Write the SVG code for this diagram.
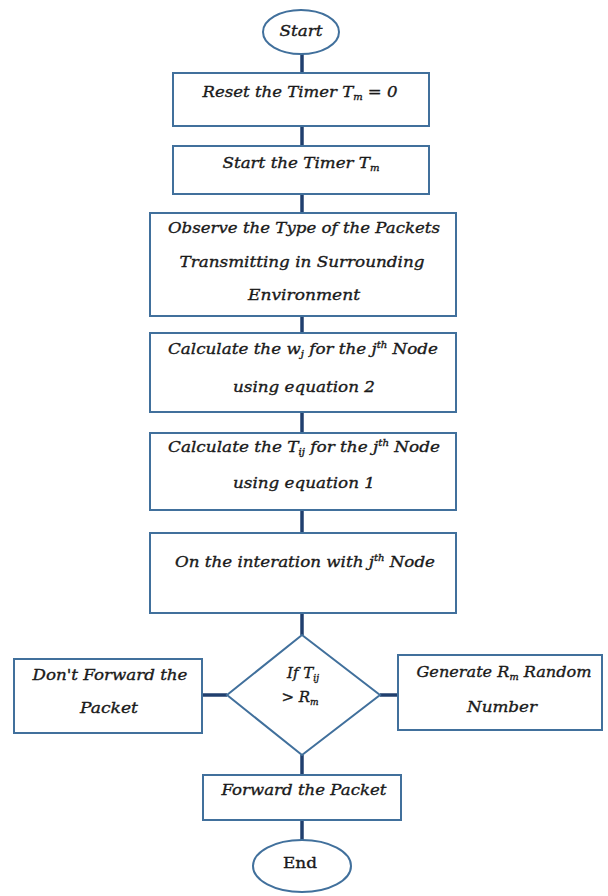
<svg xmlns="http://www.w3.org/2000/svg" width="608" height="896" viewBox="0 0 608 896">
<style>
.box{fill:#ffffff;stroke:#41709c;stroke-width:2}
.conn{stroke:#203f6e;stroke-width:3.5;fill:none}
.t{font-family:"DejaVu Serif","Liberation Serif",serif;font-style:italic;font-size:15px;fill:#1a1a1a;stroke:#1a1a1a;stroke-width:0.35;text-anchor:middle}
.n{font-family:"DejaVu Serif","Liberation Serif",serif;font-size:15px;fill:#1a1a1a;stroke:#1a1a1a;stroke-width:0.35;text-anchor:middle}
.sub{font-size:9px}
</style>
<rect width="608" height="896" fill="#ffffff"/>
<g id="connectors">
<line class="conn" x1="302" y1="54" x2="302" y2="73"/>
<line class="conn" x1="302" y1="126" x2="302" y2="146"/>
<line class="conn" x1="302" y1="194" x2="302" y2="213"/>
<line class="conn" x1="302" y1="316" x2="302" y2="333"/>
<line class="conn" x1="302" y1="412" x2="302" y2="433"/>
<line class="conn" x1="302" y1="510" x2="302" y2="533"/>
<line class="conn" x1="302" y1="613" x2="302" y2="635"/>
<line class="conn" x1="202" y1="695" x2="227" y2="695"/>
<line class="conn" x1="380" y1="695" x2="398" y2="695"/>
<line class="conn" x1="302" y1="755" x2="302" y2="775"/>
<line class="conn" x1="302" y1="820" x2="302" y2="840"/>
</g>
<g id="start">
<ellipse class="box" cx="301" cy="32" rx="38" ry="22"/>
<text class="t" x="301" y="36" textLength="43" lengthAdjust="spacingAndGlyphs">Start</text>
</g>
<g id="reset">
<rect class="box" x="173" y="73" width="256" height="53"/>
<text class="t" x="300" y="97" textLength="195" lengthAdjust="spacingAndGlyphs">Reset the Timer T<tspan class="sub" dy="3">m</tspan><tspan dy="-3"> =  0</tspan></text>
</g>
<g id="starttimer">
<rect class="box" x="173" y="146" width="256" height="48"/>
<text class="t" x="301" y="168" textLength="157" lengthAdjust="spacingAndGlyphs">Start the Timer T<tspan class="sub" dy="3">m</tspan></text>
</g>
<g id="observe">
<rect class="box" x="150" y="213" width="306" height="103"/>
<text class="t" x="304" y="233" textLength="272" lengthAdjust="spacingAndGlyphs">Observe the Type of the Packets</text>
<text class="t" x="302" y="267" textLength="245" lengthAdjust="spacingAndGlyphs">Transmitting in Surrounding</text>
<text class="t" x="304" y="300" textLength="112" lengthAdjust="spacingAndGlyphs">Environment</text>
</g>
<g id="calcw">
<rect class="box" x="150" y="333" width="306" height="79"/>
<text class="t" x="303" y="354" textLength="270" lengthAdjust="spacingAndGlyphs">Calculate the w<tspan class="sub" dy="3">j</tspan><tspan dy="-3"> for the j</tspan><tspan class="sub" dy="-6">th</tspan><tspan dy="6"> Node</tspan></text>
<text class="t" x="304" y="392" textLength="142" lengthAdjust="spacingAndGlyphs">using equation 2</text>
</g>
<g id="calct">
<rect class="box" x="150" y="433" width="306" height="77"/>
<text class="t" x="304" y="452" textLength="272" lengthAdjust="spacingAndGlyphs">Calculate the T<tspan class="sub" dy="3">ij</tspan><tspan dy="-3"> for the j</tspan><tspan class="sub" dy="-6">th</tspan><tspan dy="6"> Node</tspan></text>
<text class="t" x="304" y="488" textLength="142" lengthAdjust="spacingAndGlyphs">using equation 1</text>
</g>
<g id="interaction">
<rect class="box" x="150" y="533" width="306" height="80"/>
<text class="t" x="305" y="567" textLength="260" lengthAdjust="spacingAndGlyphs">On the interation with j<tspan class="sub" dy="-6">th</tspan><tspan dy="6"> Node</tspan></text>
</g>
<g id="decision">
<polygon class="box" points="302,635 380,695 302,755 227,695"/>
<text class="t" x="303" y="678">If T<tspan class="sub" dy="3">ij</tspan></text>
<text class="t" x="300" y="702">&gt; R<tspan class="sub" dy="3">m</tspan></text>
</g>
<g id="dontforward">
<rect class="box" x="14" y="659" width="188" height="74"/>
<text class="t" x="110" y="680" textLength="155" lengthAdjust="spacingAndGlyphs">Don't Forward the</text>
<text class="t" x="109" y="713" textLength="58" lengthAdjust="spacingAndGlyphs">Packet</text>
</g>
<g id="generate">
<rect class="box" x="398" y="655" width="204" height="75"/>
<text class="t" x="504" y="677" textLength="175" lengthAdjust="spacingAndGlyphs">Generate R<tspan class="sub" dy="3">m</tspan><tspan dy="-3"> Random</tspan></text>
<text class="t" x="502" y="712" textLength="70" lengthAdjust="spacingAndGlyphs">Number</text>
</g>
<g id="forward">
<rect class="box" x="203" y="775" width="198" height="45"/>
<text class="t" x="304" y="795" textLength="165" lengthAdjust="spacingAndGlyphs">Forward the Packet</text>
</g>
<g id="end">
<ellipse class="box" cx="302" cy="866" rx="49" ry="26"/>
<text class="n" x="300" y="868" textLength="34" lengthAdjust="spacingAndGlyphs">End</text>
</g>
</svg>
